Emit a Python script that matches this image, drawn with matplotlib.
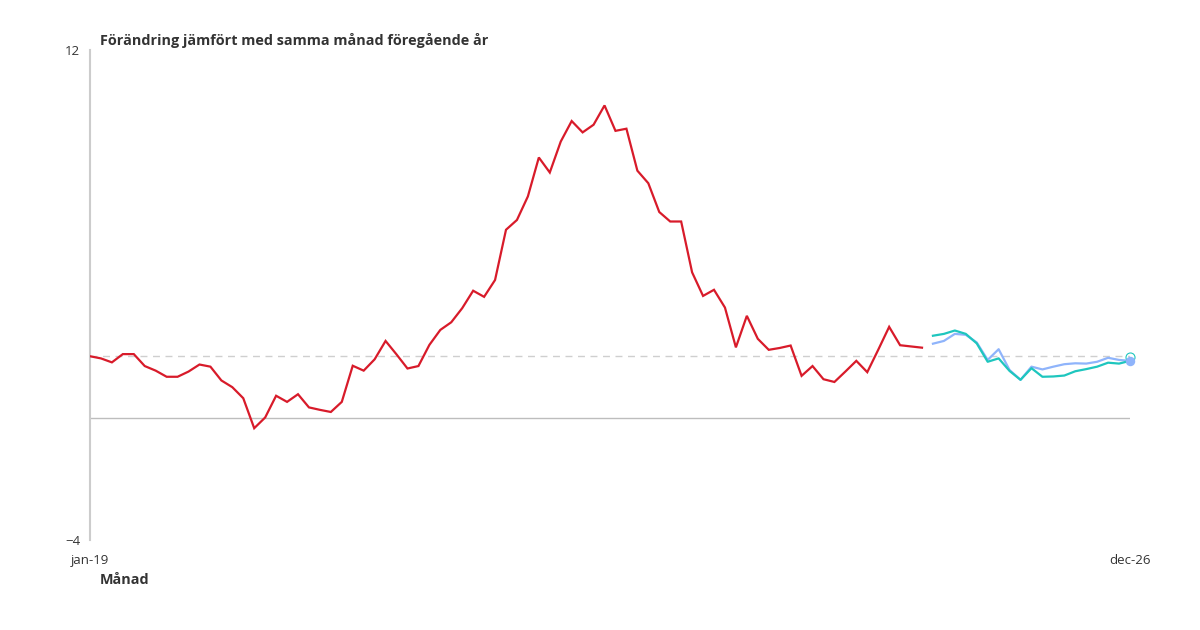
import matplotlib
matplotlib.use("Agg")
import matplotlib.pyplot as plt
import matplotlib.transforms as mtransforms
import pandas as pd

plt.rcParams['font.family'] = ['Open Sans', 'DejaVu Sans']

months = pd.date_range("2019-01-01", "2026-12-01", freq="MS")
month_labels = [m.strftime("%b").lower() + "-" + m.strftime("%y") for m in months]
month_labels = [l.replace("may", "maj").replace("oct", "okt") for l in month_labels]

# Utfall (red), months 0..76
outcome = [2.0, 1.93, 1.8, 2.07, 2.07, 1.68, 1.53, 1.33, 1.33, 1.5, 1.73, 1.66,
           1.21, 0.99, 0.63, -0.35, 0.0, 0.71, 0.51, 0.76, 0.33, 0.25, 0.18, 0.51,
           1.69, 1.53, 1.9, 2.5, 2.06, 1.6, 1.68, 2.37, 2.86, 3.11, 3.57, 4.14,
           3.94, 4.49, 6.13, 6.45, 7.22, 8.49, 8.0, 9.01, 9.68, 9.31, 9.56, 10.19,
           9.36, 9.43, 8.06, 7.65, 6.71, 6.4, 6.4, 4.74, 3.97, 4.17, 3.59, 2.29,
           3.32, 2.57, 2.21, 2.27, 2.35, 1.36, 1.68, 1.25, 1.16, 1.5, 1.85, 1.48,
           2.21, 2.96, 2.36, 2.32, 2.28]

# Prognoser, months 77..95
forecast_a = [2.67, 2.73, 2.84, 2.73, 2.42, 1.82, 1.93, 1.52, 1.23, 1.61, 1.33,
              1.34, 1.37, 1.51, 1.58, 1.66, 1.79, 1.76, 1.85]
forecast_b = [2.41, 2.5, 2.73, 2.7, 2.45, 1.88, 2.23, 1.55, 1.23, 1.66, 1.57,
              1.66, 1.74, 1.77, 1.76, 1.82, 1.95, 1.88, 1.85]

target = 2.0
y_min, y_max = -4, 12

RED = "#d81b2a"
TEAL = "#1ec6be"
BLUE = "#8fb4fb"
TEXT = "#333333"

fig = plt.figure(figsize=(12, 6.3), dpi=100)
ax = fig.add_axes([90/1200, 90/630, 1040/1200, 490/630])

x_out = list(range(len(outcome)))
start_f = len(outcome)
x_f = list(range(start_f, start_f + len(forecast_a)))

ax.axhline(0, color="#bdbdbd", lw=1.0, zorder=1)
ax.axhline(target, color="#cfcfcf", lw=1.0, ls=(0, (5, 4)), zorder=1)

ax.plot(x_out, outcome, color=RED, lw=1.6, zorder=3, solid_joinstyle="miter")
ax.plot(x_f, forecast_b, color=BLUE, lw=1.6, zorder=3)
ax.plot(x_f, forecast_a, color=TEAL, lw=1.6, zorder=4)
shift = ax.transData + mtransforms.ScaledTranslation(0, 4/100, fig.dpi_scale_trans)
ax.plot([x_f[-1]], [forecast_a[-1]], "o", ms=6.5, mfc="none", mec=TEAL, mew=0.8,
        zorder=5, transform=shift, clip_on=False)
ax.plot([x_f[-1]], [forecast_b[-1]], "o", ms=6.8, color=BLUE, mec=BLUE, mew=0,
        zorder=6, clip_on=False)

ax.set_xlim(0, len(months) - 1)
ax.set_ylim(y_min, y_max)

for s in ["top", "right", "bottom"]:
    ax.spines[s].set_visible(False)
ax.spines["left"].set_color("#cccccc")
ax.spines["left"].set_linewidth(1.5)

ax.set_yticks([y_min, y_max])
ax.set_yticklabels(["\u22124", "12"])
ax.set_xticks([0, len(months) - 1])
ax.set_xticklabels([month_labels[0], month_labels[-1]])
ax.tick_params(axis="both", length=0, labelsize=9.5, colors=TEXT)
ax.tick_params(axis="y", pad=7)
ax.tick_params(axis="x", pad=10)

fig.text(100/1200, 1 - 40/630, "Förändring jämfört med samma månad föregående år",
         fontsize=10.4, fontweight="bold", color=TEXT, va="center", ha="left")
fig.text(100/1200, 1 - 580/630, "Månad", fontsize=10.4, fontweight="bold",
         color=TEXT, va="center", ha="left")

fig.savefig("out.png", dpi=100, facecolor="white")
